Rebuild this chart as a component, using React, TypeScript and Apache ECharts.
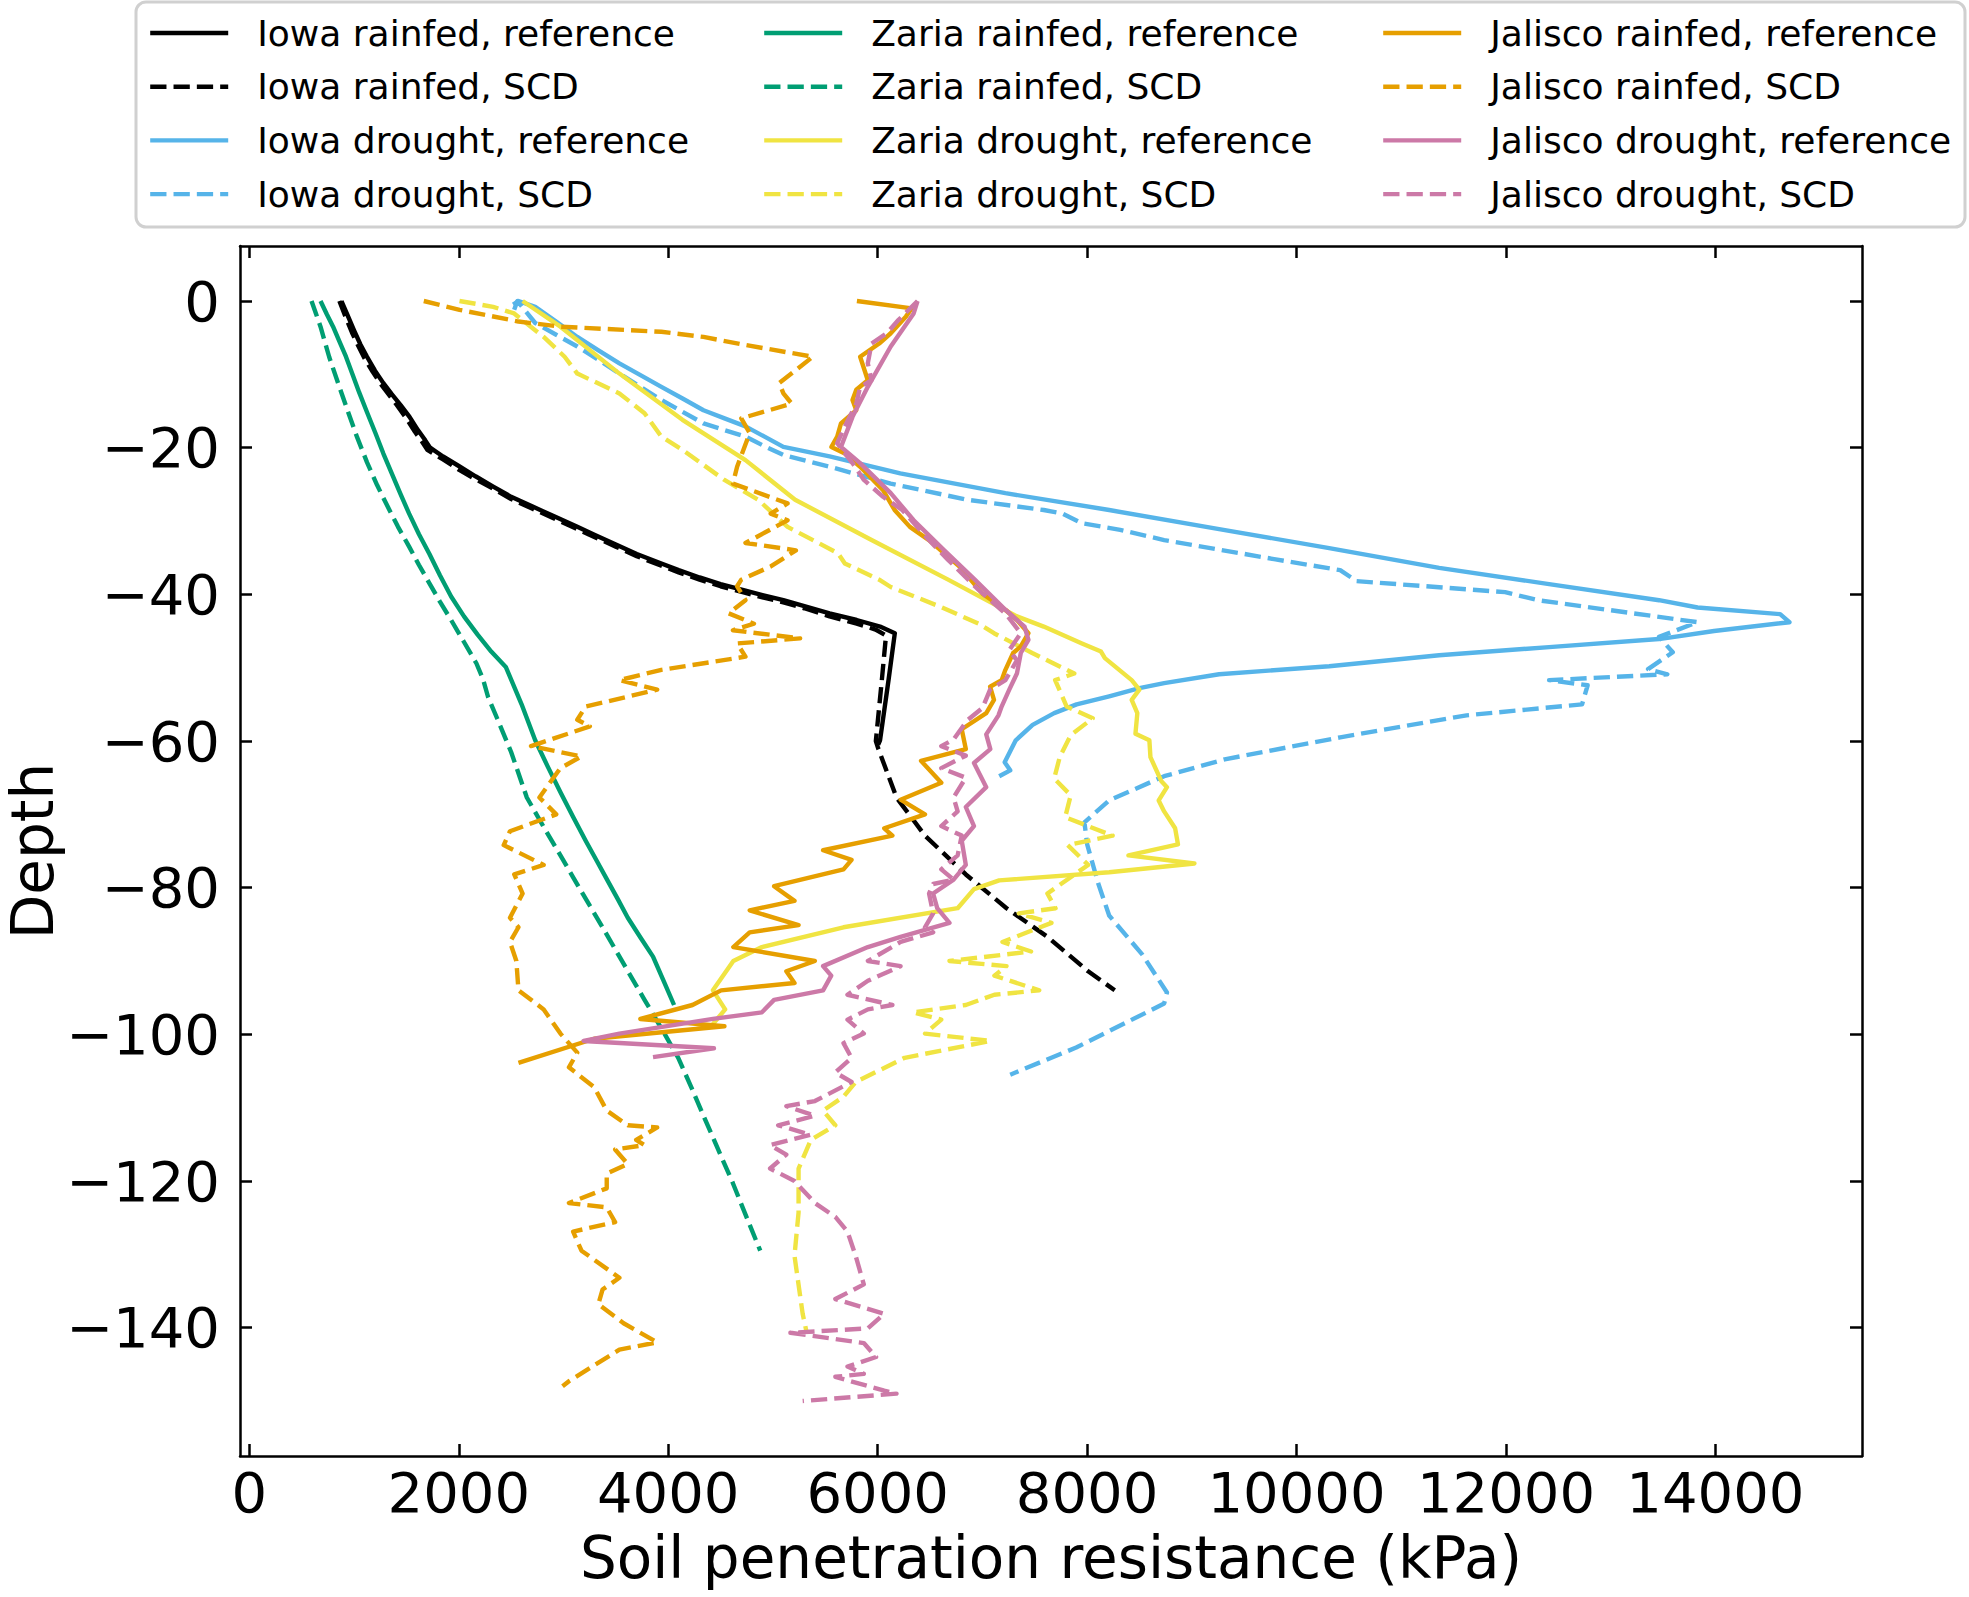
import React, { useEffect, useRef } from "react";
import * as echarts from "echarts";

const FONT = "DejaVu Sans";

const xTicks = [0, 2000, 4000, 6000, 8000, 10000, 12000, 14000];
const yTicks = [0, -20, -40, -60, -80, -100, -120, -140];

const xName = "Soil penetration resistance (kPa)";
const yName = "Depth";

const seriesNames = [
  "Iowa rainfed, reference",
  "Iowa rainfed, SCD",
  "Iowa drought, reference",
  "Iowa drought, SCD",
  "Zaria rainfed, reference",
  "Zaria rainfed, SCD",
  "Zaria drought, reference",
  "Zaria drought, SCD",
  "Jalisco rainfed, reference",
  "Jalisco rainfed, SCD",
  "Jalisco drought, reference",
  "Jalisco drought, SCD",
];

const seriesColors = [
  "#000000", "#000000",
  "#56B4E9", "#56B4E9",
  "#009E73", "#009E73",
  "#F0E442", "#F0E442",
  "#E69F00", "#E69F00",
  "#CC79A7", "#CC79A7",
];

const iowaRainfedRef = [
  [880, 0], [940, -2], [1000, -4], [1060, -5.9], [1124, -7.6], [1200, -9.5], [1280, -11.2],
  [1360, -12.7], [1445, -14.2], [1530, -15.8], [1610, -17.6], [1680, -19], [1726, -20],
  [1850, -21.2], [2000, -22.5], [2160, -23.9], [2329, -25.3], [2500, -26.7], [2700, -28],
  [2900, -29.3], [3132, -30.8], [3300, -31.9], [3500, -33.2], [3700, -34.5], [3935, -35.8],
  [4100, -36.7], [4300, -37.7], [4500, -38.6], [4738, -39.5], [4900, -40.1], [5100, -40.8],
  [5300, -41.6], [5541, -42.6], [5800, -43.5], [6023, -44.4], [6164, -45.3],
  [6104, -51.7], [6023, -59.9], [6005, -60.5],
];

const iowaRainfedScd = [
  [860, 0], [920, -2.2], [980, -4.3], [1040, -6.1], [1100, -7.8], [1180, -9.7], [1260, -11.4],
  [1340, -12.9], [1420, -14.4], [1500, -16], [1580, -17.8], [1650, -19.2], [1700, -20.3],
  [1850, -21.6], [2000, -23], [2160, -24.3], [2329, -25.6], [2500, -27], [2700, -28.3],
  [2900, -29.6], [3132, -31.1], [3300, -32.2], [3500, -33.5], [3700, -34.8], [3935, -36.1],
  [4100, -37], [4300, -38], [4500, -38.9], [4738, -39.8], [4900, -40.4], [5100, -41.1],
  [5300, -41.9], [5541, -43], [5800, -44], [5980, -44.8], [6080, -45.6],
  [6040, -51.7], [5983, -60], [6005, -61], [6180, -67.7], [6452, -72.9], [6842, -78.2],
  [7231, -82.8], [7621, -86.7], [8010, -91.4], [8264, -94],
];

const iowaDroughtRef = [
  [2520, -0.5], [2570, 0], [2730, -0.8], [2930, -2.8], [3132, -4.9], [3330, -6.7], [3534, -8.5],
  [3735, -10.1], [3935, -11.7], [4137, -13.3], [4337, -14.9], [4538, -16], [4738, -17.1],
  [4920, -18.5], [5100, -19.9], [5541, -21.2], [6216, -23.5], [7220, -26.2], [8211, -28.5],
  [9261, -31.1], [10312, -33.7], [11362, -36.4], [12412, -38.6], [13462, -40.8], [13830, -41.8],
  [14618, -42.7], [14707, -43.8], [13987, -45], [13462, -46.1], [12412, -47.2], [11362, -48.3],
  [10312, -49.8], [9261, -50.9], [8736, -52.1], [8500, -52.8], [8211, -53.9], [7900, -55],
  [7686, -56.2], [7480, -57.8], [7319, -59.9], [7213, -62.9], [7266, -64], [7161, -64.8],
];

const iowaDroughtScd = [
  [2529, -1.2], [2560, 0], [2730, -3], [2930, -4.6], [3132, -6.2], [3330, -8], [3534, -9.9],
  [3735, -11.7], [3935, -13.5], [4137, -15.1], [4337, -16.7], [4538, -17.6], [4738, -18.5],
  [4920, -19.8], [5100, -21], [5541, -22.6], [6125, -24.9], [6855, -27.1], [7586, -28.5],
  [7768, -29], [7951, -30.3], [8316, -31.2], [8736, -32.6], [9786, -35.2], [10417, -36.7],
  [10574, -38.2], [11992, -39.7], [12307, -40.8], [13830, -43.8], [13462, -45.8], [13593, -47.9],
  [13357, -50.2], [13541, -50.9], [12412, -51.7], [12780, -52.4], [12727, -55], [11624, -56.5],
  [10417, -59.5], [9314, -62.5], [8736, -64.8], [8211, -68.1], [7975, -71.1], [8001, -74.1],
  [8106, -79.4], [8211, -83.8], [8526, -89.1], [8763, -94.3], [8736, -95.8], [7896, -101.8],
  [7266, -105.5],
];

const zariaRainfedRef = [
  [680, 0], [740, -1.8], [800, -3.5], [860, -5.5], [923, -7.6], [985, -10], [1050, -12.5],
  [1125, -15.2], [1204, -18], [1280, -20.8], [1360, -23.5], [1440, -26.2], [1526, -29],
  [1620, -31.8], [1720, -34.5], [1820, -37.4], [1927, -40.3], [2050, -43], [2180, -45.5],
  [2310, -47.8], [2449, -49.9], [2600, -55], [2730, -59.9], [2850, -63.5], [2971, -67],
  [3090, -70.3], [3212, -73.6], [3320, -76.4], [3420, -79], [3520, -81.6], [3614, -84.1],
  [3735, -86.8], [3855, -89.4], [3950, -92.5], [4056, -96],
];

const zariaRainfedScd = [
  [594, 0], [636, -1.7], [680, -3.5], [720, -5.5], [762, -7.6], [850, -11.3], [940, -15],
  [1030, -18.6], [1124, -22], [1220, -25.1], [1320, -28], [1420, -30.8], [1526, -33.5],
  [1620, -36], [1720, -38.5], [1820, -41], [1927, -43.5], [2050, -46.5], [2168, -49.4],
  [2230, -51.5], [2280, -54], [2369, -57], [2500, -61.5], [2650, -67.7], [2810, -71.7],
  [2971, -75.6], [3170, -80.5], [3373, -85.4], [3575, -90.4], [3774, -95.3], [3940, -99.3],
  [4096, -103.2], [4220, -107.2], [4337, -111.1], [4480, -115.8], [4618, -120.3], [4750, -125],
  [4879, -129.5],
];

const zariaDroughtRef = [
  [2610, 0], [2971, -3.5], [3534, -9.9], [4136, -16.2], [4738, -21.7], [5212, -27.1], [5942, -32.6],
  [6673, -38], [7330, -43], [7586, -44.4], [7951, -46.7], [8133, -47.8], [8170, -48.7],
  [8426, -51.7], [8499, -53], [8426, -54.4], [8480, -56.2], [8462, -59], [8595, -59.9],
  [8605, -62.2], [8710, -65.5], [8763, -66.3], [8684, -68.1], [8736, -69.6], [8841, -71.9],
  [8868, -74.1], [8395, -75.6], [9025, -76.7], [8211, -77.9], [7161, -79], [6920, -80.2],
  [6764, -82.8], [5674, -85.4], [4895, -88.1], [4622, -90], [4427, -94], [4544, -96.6],
  [4427, -98.6],
];

const zariaDroughtScd = [
  [2007, 0], [2329, -0.8], [2529, -1.7], [2811, -4.9], [3011, -7.6], [3132, -9.9], [3534, -12.6],
  [3774, -15.3], [3935, -18.5], [4136, -20.3], [4537, -24.4], [4859, -27.1], [5140, -30.8],
  [5622, -34.4], [5687, -35.8], [6015, -38], [6125, -39], [6600, -41.7], [6965, -44],
  [7111, -45.3], [7476, -48], [7878, -50.8], [7695, -51.7], [7805, -55.3], [8054, -56.9],
  [7844, -59.2], [7739, -62.2], [7686, -65.1], [7844, -67.4], [7791, -70.4], [8244, -72.9],
  [7815, -74.2], [8010, -76.9], [7621, -80.8], [7699, -82.8], [7348, -83.5], [7660, -84.8],
  [7192, -87.4], [7465, -88.7], [6686, -90], [7231, -90.7], [7115, -92], [7543, -94],
  [7115, -94.6], [6842, -96], [6336, -97], [6608, -98], [6453, -99.9], [7076, -100.9],
  [6258, -103.2], [5790, -106.5], [5674, -108.5], [5479, -110.4], [5596, -112.4], [5362, -114.4],
  [5245, -118.3], [5245, -124.3], [5206, -130.2], [5284, -138.1], [5323, -140.7],
];

const jaliscoRainfedRef = [
  [5802, 0], [6326, -1], [6271, -2.1], [6125, -4.4], [6015, -5.8], [5833, -7.6], [5906, -10.8],
  [5796, -12.1], [5760, -13.5], [5796, -14.9], [5650, -16.7], [5614, -18.5], [5559, -19.9],
  [5687, -20.8], [5833, -22.6], [6052, -25.8], [6162, -28.5], [6308, -30.8], [6490, -32.6],
  [6782, -36.2], [7001, -39.9], [7220, -42.1], [7330, -43.5], [7440, -45.3], [7367, -47.1],
  [7294, -48], [7220, -50.3], [7184, -51.7], [7074, -52.6], [7111, -54.4], [7037, -56.2],
  [6803, -58.4], [6842, -61.1], [6414, -62.7], [6608, -65.7], [6219, -68], [6452, -70],
  [6063, -71.9], [6141, -72.9], [5479, -74.9], [5751, -76.2], [5674, -77.5], [5011, -79.8],
  [5206, -81.8], [4778, -83.1], [5245, -85.1], [4778, -86.1], [4622, -88.1], [5401, -90],
  [5128, -91.4], [5206, -93], [4505, -94], [4232, -96], [3734, -97.9], [4537, -98.9],
  [3293, -100.6], [2570, -103.9],
];

const jaliscoRainfedScd = [
  [1666, 0], [2007, -1.2], [2570, -2.8], [2971, -3.5], [3935, -4.2], [4337, -4.9], [4738, -6],
  [5381, -7.6], [5060, -11.2], [5100, -12.6], [5180, -14], [4698, -16], [4778, -18],
  [4658, -22.6], [4618, -24.9], [5140, -27.6], [4979, -29], [5140, -29.9], [4738, -33],
  [5220, -34], [4979, -36.2], [4698, -38], [4658, -38.9], [4738, -40.8], [4578, -42.6],
  [4819, -44], [4618, -44.9], [5260, -46], [4658, -46.7], [4738, -48.5], [3935, -50.3],
  [3534, -51.7], [3895, -53], [3212, -55.3], [3132, -57.1], [3252, -58], [2690, -60.7],
  [3172, -62.1], [2971, -63.7], [2770, -67.7], [2931, -70], [2489, -72.3], [2429, -74.2],
  [2811, -76.9], [2530, -78.2], [2610, -80.8], [2489, -84.1], [2570, -85.4], [2489, -87.4],
  [2550, -90], [2570, -94], [2811, -96.6], [2971, -99.9], [3132, -102.5], [3052, -104.5],
  [3293, -107.2], [3413, -110.4], [3614, -112.4], [3895, -112.7], [3694, -114.4], [3774, -115.1],
  [3493, -115.7], [3614, -117.7], [3413, -119], [3413, -121], [3052, -123], [3413, -123.6],
  [3493, -125.6], [3092, -126.9], [3172, -129.5], [3534, -133.2], [3373, -134.8], [3333, -136.8],
  [3574, -139.4], [3895, -142], [3534, -143], [3052, -147.3], [2991, -148],
];

const jaliscoDroughtRef = [
  [6381, 0], [6344, -1.7], [6125, -6.2], [5906, -11.7], [5760, -15.8], [5650, -19.9],
  [5833, -22.1], [6125, -26.2], [6344, -29.9], [6636, -34], [6928, -38], [7220, -42.1],
  [7403, -44.4], [7440, -46.2], [7367, -48], [7330, -50.8], [7257, -53], [7184, -55.3],
  [7154, -56.5], [7037, -59.1], [7076, -61.1], [6920, -63], [7037, -66.3], [6842, -69],
  [6920, -71.6], [6803, -73.6], [6842, -76.9], [6725, -78.9], [6530, -80.8], [6569, -82.8],
  [6686, -84.8], [6219, -86.7], [5907, -88.1], [5479, -90.7], [5557, -92], [5479, -94],
  [5011, -95.3], [4895, -97], [4427, -97.9], [3534, -99.9], [3192, -100.9], [4437, -101.9],
  [3855, -103.1],
];

const jaliscoDroughtScd = [
  [6381, 0], [6198, -2.6], [6088, -4.4], [5942, -5.8], [5906, -8.5], [5942, -10.8], [5833, -11.7],
  [5796, -14], [5687, -17.1], [5614, -19.4], [5760, -22.1], [5869, -24.4], [6052, -26.7],
  [6235, -28.5], [6490, -32.6], [6673, -35.3], [6965, -39.4], [7220, -42.6], [7367, -45.3],
  [7257, -47.6], [7330, -49], [7220, -51.7], [7074, -53], [7001, -55.5], [6855, -57.2],
  [6725, -59.8], [6608, -60.7], [6842, -62], [6608, -63.7], [6842, -65], [6725, -67.7],
  [6764, -69.6], [6608, -71.6], [6803, -72.9], [6764, -75.6], [6608, -77.5], [6725, -78.9],
  [6530, -79.5], [6491, -80.8], [6530, -83.5], [6452, -85.4], [6530, -86.1], [6219, -87.4],
  [5907, -90], [6219, -90.7], [5907, -92.7], [5712, -94.6], [6141, -96], [5907, -96.6],
  [5712, -98], [5868, -99.9], [5674, -101.2], [5751, -103.2], [5596, -105.2], [5751, -106.5],
  [5401, -109.1], [5128, -109.8], [5401, -111.1], [5050, -112.4], [5362, -113.7], [4973, -115.1],
  [5128, -116.4], [4973, -118.3], [5206, -120], [5401, -123], [5596, -124.9], [5712, -126.9],
  [5790, -130.2], [5868, -134.1], [5596, -136.1], [6063, -138.1], [5907, -140.1], [5167, -140.7],
  [5868, -142.1], [5985, -144], [5712, -145.3], [5868, -146.3], [5596, -146.7], [6063, -148.6],
  [6180, -149], [5284, -150],
];

const seriesData = [
  iowaRainfedRef, iowaRainfedScd, iowaDroughtRef, iowaDroughtScd,
  zariaRainfedRef, zariaRainfedScd, zariaDroughtRef, zariaDroughtScd,
  jaliscoRainfedRef, jaliscoRainfedScd, jaliscoDroughtRef, jaliscoDroughtScd,
];

const fmt = (v: number) => (v < 0 ? "\u2212" + Math.abs(v) : String(v));

export default function App() {
  const ref = useRef<HTMLDivElement>(null);
  useEffect(() => {
    document.body.style.margin = "0";
    if (!ref.current) return;
    const chart = echarts.init(ref.current, undefined, { renderer: "svg" });
    const LW = 4.4;
    const dash = [3.7 * LW, 1.6 * LW];
    const tickStyle = { color: "#000", width: 2.5 };
    const axisCommon = {
      type: "value" as const,
      splitLine: { show: false },
      axisLine: { show: true, onZero: false, lineStyle: { color: "#000", width: 2.5 } },
    };
    const legendCols = [0, 1, 2].map((c) => ({
      orient: "vertical",
      left: [148, 762, 1381][c],
      top: 13,
      padding: 0,
      itemWidth: 78,
      itemHeight: 14,
      itemGap: 13.7,
      z: 10,
      itemStyle: { opacity: 0 },
      lineStyle: { width: LW },
      data: seriesNames.slice(c * 4, c * 4 + 4),
      textStyle: {
        fontFamily: FONT,
        fontSize: 36,
        color: "#000",
        lineHeight: 40,
        padding: [0, 0, 0, 24],
      },
    }));
    chart.setOption({
      animation: false,
      backgroundColor: "#fff",
      grid: {
        left: 240,
        right: 107,
        top: 246,
        bottom: 141,
        containLabel: false,
        outerBoundsMode: "none",
      },
      xAxis: [
        {
          ...axisCommon,
          position: "bottom",
          min: -89,
          max: 15400,
          name: xName,
          nameLocation: "middle",
          nameGap: 73,
          nameTextStyle: { fontFamily: FONT, fontSize: 58, color: "#000" },
          axisTick: { show: true, inside: true, length: 12, lineStyle: tickStyle, customValues: xTicks },
          axisLabel: {
            show: true, margin: 8, fontFamily: FONT, fontSize: 56, color: "#000",
            customValues: xTicks, formatter: fmt,
          },
        },
        {
          ...axisCommon,
          position: "top",
          min: -89,
          max: 15400,
          axisTick: { show: true, inside: true, length: 12, lineStyle: tickStyle, customValues: xTicks },
          axisLabel: { show: false },
        },
      ],
      yAxis: [
        {
          ...axisCommon,
          position: "left",
          min: -157.5,
          max: 7.5,
          name: yName,
          nameLocation: "middle",
          nameGap: 178,
          nameRotate: 90,
          nameMoveOverlap: false,
          nameTextStyle: { fontFamily: FONT, fontSize: 58, lineHeight: 58, color: "#000" },
          axisTick: { show: true, inside: true, length: 12, lineStyle: tickStyle, customValues: yTicks },
          axisLabel: {
            show: true, margin: 20, fontFamily: FONT, fontSize: 56, color: "#000",
            customValues: yTicks, formatter: fmt,
          },
        },
        {
          ...axisCommon,
          position: "right",
          min: -157.5,
          max: 7.5,
          axisTick: { show: true, inside: true, length: 12, lineStyle: tickStyle, customValues: yTicks },
          axisLabel: { show: false },
        },
      ],
      legend: legendCols,
      graphic: [
        {
          type: "rect",
          z: 1,
          shape: { x: 136, y: 2, width: 1829, height: 225, r: 10 },
          style: { fill: "rgba(255,255,255,0.8)", stroke: "#d0d0d0", lineWidth: 3 },
        },
      ],
      series: seriesNames.map((name, i) => ({
        name,
        type: "line",
        xAxisIndex: 0,
        yAxisIndex: 0,
        data: seriesData[i],
        symbol: "none",
        showSymbol: false,
        clip: true,
        color: seriesColors[i],
        lineStyle: {
          color: seriesColors[i],
          width: LW,
          type: i % 2 === 1 ? dash : "solid",
          cap: "butt",
          join: "round",
        },
        emphasis: { disabled: true },
      })),
    });
    return () => chart.dispose();
  }, []);
  return <div ref={ref} style={{ width: 1969, height: 1597 }} />;
}
